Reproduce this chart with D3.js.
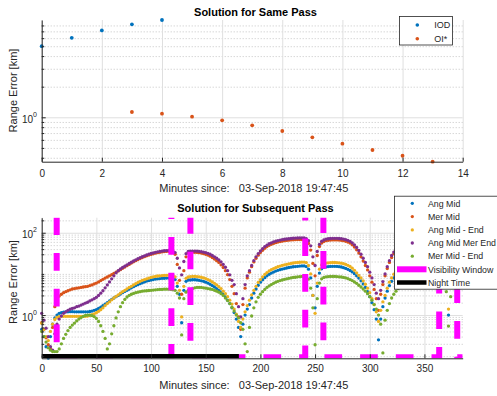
<!DOCTYPE html>
<html><head><meta charset="utf-8">
<script src="https://cdn.jsdelivr.net/npm/d3@7"></script>
<style>
body{margin:0;background:#fff;}
svg{display:block;font-family:"Liberation Sans",Arial,Helvetica,sans-serif;}
</style></head><body>
<svg id="chart" width="497" height="396"></svg>
<script>
// ---------------- DATA ----------------
// Top panel: Solution for Same Pass
const iodMinutes = [0, 1, 2, 3, 4];
const iodValues  = [5.0, 6.05, 7.15, 8.2, 9.05];
const oiMinutes  = [3, 4, 5, 6, 7, 8, 9, 10, 11, 12, 13];
const oiValues   = [1.127, 1.085, 1.014, 0.934, 0.834, 0.733, 0.636, 0.55, 0.477, 0.419, 0.366];
const topXTicks  = [0, 2, 4, 6, 8, 10, 12, 14];

// Bottom panel: Solution for Subsequent Pass (one sample every 2 minutes, 0..384)
const sampleStep = 2;
const angMid = [
0.45,0.3,0.17,0.09,0.3,0.6,0.85,1.0,1.1,1.15,
1.18,1.2,1.2,1.21,1.21,1.2,1.2,1.2,1.2,1.2,
1.2,1.2,1.22,1.25,1.3,1.35,1.45,1.55,1.7,1.85,
2.0,2.2,2.4,2.6,2.8,3.0,3.25,3.5,3.75,4.0,
4.3,4.6,4.9,5.2,5.5,5.8,6.1,6.4,6.7,6.9,
7.1,7.3,7.5,7.6,7.7,7.8,7.85,7.9,7.9,7.9,
7.8,7.3,5.0,3.2,0.65,4.0,6.6,7.1,7.1,7.2,
7.2,7.1,7.0,6.8,6.6,6.3,6.0,5.6,5.2,4.8,
4.4,4.0,3.6,3.2,2.75,2.3,1.9,1.5,1.15,0.8,
0.5,0.3,0.6,1.0,1.4,1.8,2.6,3.4,4.3,5.3,
6.3,7.2,8.1,9.0,9.8,10.5,11.1,11.7,12.2,12.7,
13.1,13.5,13.9,14.3,14.6,14.9,15.1,15.3,15.5,15.6,
15.6,15.1,13.0,8.0,3.0,1.5,5.0,10.5,13.3,14.4,
14.8,15.1,15.2,15.3,15.3,15.2,15.0,14.7,14.2,13.6,
12.9,12.1,11.2,10.1,9.0,7.9,6.8,5.7,4.7,3.7,
2.8,2.0,1.35,0.8,0.25,0.8,1.6,2.6,3.8,5.2,
6.6,8.0,9.3,10.5,11.5,12.3,13.0,13.6,14.1,14.5,
14.8,15.1,15.3,15.5,15.6,15.7,15.7,15.8,15.8,15.7,
15.6,15.5,15.2,14.3,11.5,6.0,1.0,7.0,12.0,14.2,
15.0,15.4,15.6];
const merMid = [
0.65,0.45,0.28,0.19,0.15,0.5,1.6,2.4,2.9,3.2,
3.5,3.7,3.9,4.1,4.3,4.4,4.5,4.6,4.7,4.8,
4.9,5.0,5.2,5.4,5.7,6.0,6.4,6.9,7.4,7.9,
8.4,9.0,9.6,10.3,11.0,11.8,12.7,13.7,14.7,15.8,
17.0,18.3,19.6,21.0,22.3,23.6,24.9,26.2,27.5,28.7,
29.8,30.8,31.8,32.7,33.5,34.2,34.8,35.2,35.5,35.5,
33.5,30,17,7,3.2,12,26,32,33,33.5,
33.5,33.2,32.7,32,31,30,28.6,27,25,23,
21,19,16.6,14.3,12,9.6,7.3,5.0,3.3,1.9,
0.9,0.45,1.8,4.5,8,11,15,19.5,24,28.5,
33,37.5,42,46,49.5,52.5,55,57.5,59.5,61,
62.5,64,65,66,67,67.5,68,68.5,68.5,68.5,
68,65,55,38,18,9,28,46,56,61,
64,65.5,66.5,67,67,67,66.5,65.5,64,62,
59.5,56,51,45,38.5,32,26,20.5,16,12.5,
9,6.3,4.2,2.5,1.3,3.2,5.5,9,13.5,19,
25,31,37,42,46,50,53,56,58.5,60.5,
62,63,64,65,65.5,66,66.5,67,67,67,
67,67,66.5,65,57,36,6,32,55,62,
64,65,65.5];
const angMidEnd = [
0.63,0.45,0.3,0.24,0.4,0.6,0.78,0.88,0.92,0.93,
0.93,0.93,0.93,0.93,0.93,0.93,0.93,0.93,0.93,0.93,
0.93,0.95,0.98,1.02,1.07,1.14,1.23,1.35,1.5,1.7,
1.9,2.1,2.35,2.6,2.85,3.1,3.4,3.7,4.0,4.35,
4.7,5.0,5.4,5.8,6.2,6.6,7.0,7.3,7.6,7.9,
8.2,8.5,8.7,8.9,9.0,9.1,9.2,9.25,9.3,9.3,
9.1,8.5,6.0,4.0,0.9,5.0,7.8,8.4,8.6,8.7,
8.7,8.6,8.5,8.3,8.0,7.7,7.3,6.9,6.4,5.9,
5.4,4.9,4.4,3.8,3.3,2.8,2.3,1.85,1.4,1.05,
0.7,0.5,0.8,1.2,1.7,2.3,3.1,4.0,5.0,6.2,
7.3,8.5,9.7,10.8,11.8,12.7,13.5,14.2,14.9,15.5,
16.1,16.6,17.1,17.6,18.0,18.4,18.7,19.0,19.2,19.4,
19.4,18.8,16.0,10.0,3.0,1.1,6.0,13.0,16.5,17.8,
18.3,18.6,18.8,18.9,18.9,18.8,18.6,18.2,17.7,17.0,
16.2,15.2,13.8,12.2,10.6,9.2,8.0,6.8,5.6,4.5,
3.5,2.5,1.8,1.2,0.7,1.3,2.1,3.0,4.5,6.3,
8.0,9.8,11.5,13.0,14.2,15.2,16.0,16.7,17.3,17.8,
18.2,18.5,18.7,18.9,19.0,19.1,19.2,19.2,19.2,19.2,
19.1,19.0,18.8,18.0,15.0,8.0,1.4,9.0,15.0,17.5,
18.5,19.0,19.2];
const angMidMerEnd = [
1.1,0.75,0.48,0.3,0.17,0.14,0.35,0.6,0.8,0.95,
1.1,1.2,1.3,1.4,1.45,1.5,1.6,1.65,1.75,1.85,
1.95,2.05,2.2,2.35,2.5,2.7,3.0,3.4,3.9,4.6,
5.4,6.4,7.6,9.0,10.6,12.0,13.2,14.3,15.4,16.6,
17.9,19.2,20.6,22.0,23.4,24.8,26.1,27.5,28.8,30.1,
31.3,32.4,33.4,34.4,35.2,35.9,36.5,36.9,37.1,37.0,
35.5,33,24,14,9.5,20,31,35,35.5,35.8,
35.8,35.6,35.2,34.6,33.8,32.8,31.5,30,28,26,
24,22,19.6,17,14.5,12,9.5,7.0,5.5,3.3,
1.6,0.9,2.5,5.5,9,12,16,21,26,31,
36,41,46,50,54,57,60,62.5,64.5,66.5,
68,69.5,70.5,71.5,72.5,73.5,74,74.5,75,75,
74.5,72,64,48,26,16,35,52,62,67,
70,71.5,72.5,73,73,73,72.5,71.5,70,68,
65.5,62,57,51,44,37,30,24,19,15,
11,8,5.5,3.4,2.5,4,6.5,10,15,21,
28,34,40,45,50,54,57.5,60.5,63,65,
66.5,68,69,70,71,71.5,72,72.5,73,73,
73,73,72.5,71,64,45,14,40,62,68,
70,71,71.5];
const merMidEnd = [
0.4,0.3,0.22,0.16,0.14,0.13,0.13,0.13,0.15,0.2,
0.27,0.34,0.42,0.5,0.57,0.64,0.72,0.8,0.87,0.93,
0.98,1.0,1.0,0.97,0.92,0.83,0.7,0.55,0.4,0.27,
0.15,0.2,0.35,0.55,0.85,1.2,1.6,2.0,2.4,2.75,
3.0,3.2,3.35,3.5,3.6,3.7,3.8,3.85,3.9,3.95,
4.0,4.05,4.1,4.15,4.2,4.2,4.25,4.25,4.25,4.2,
4.1,4.0,3.4,2.6,0.33,2.5,3.6,4.0,4.2,4.4,
4.6,4.7,4.7,4.7,4.6,4.5,4.4,4.3,4.2,4.0,
3.8,3.6,3.3,3.0,2.6,2.25,1.9,1.55,1.25,1.0,
0.85,0.65,0.45,0.2,0.13,0.5,0.95,1.5,2.1,2.7,
3.2,3.7,4.2,4.7,5.1,5.5,5.9,6.3,6.6,6.9,
7.1,7.4,7.6,7.8,8.0,8.2,8.3,8.5,8.6,8.7,
8.7,8.5,7.5,4.5,1.5,0.19,2.5,6.0,7.6,8.2,
8.5,8.6,8.7,8.7,8.7,8.6,8.5,8.4,8.2,8.0,
7.7,7.3,6.9,6.4,5.9,5.3,4.8,4.3,3.8,3.3,
2.8,2.3,1.8,1.4,1.0,0.6,0.12,0.75,1.3,1.9,
2.6,3.2,3.8,4.4,5.0,5.5,6.0,6.5,6.9,7.3,
7.6,7.9,8.1,8.3,8.5,8.6,8.7,8.8,8.8,8.8,
8.8,8.7,8.6,8.2,6.5,3.7,0.54,2.8,6.5,8.0,
8.5,8.7,8.8];
const seriesNames = ["Ang Mid", "Mer Mid", "Ang Mid - End", "Ang Mid Mer End", "Mer Mid - End"];
const seriesColors = ["#0072BD", "#D95319", "#EDB120", "#7E2F8E", "#77AC30"];
const seriesValues = [angMid, merMid, angMidEnd, angMidMerEnd, merMidEnd];
const visStart = [0, 118.6, 241, 363.5];
const visEnd   = [13.7, 136, 257.6, 380];
const visHigh = 375, visLow = 0.095;
const nightStart = 0, nightEnd = 180.3, nightLevel = 0.1;
const botXTicks = [0, 50, 100, 150, 200, 250, 300, 350];
const botXMax = 385;

// ---------------- DRAW ----------------
const svg = d3.select('#chart');
const INK = '#262626';
const minutes = angMid.map((_, i) => i * sampleStep);

const xTop = d3.scaleLinear().domain([0, 14]).range([41.7, 462.7]);
const yTop = d3.scaleLog().domain([0.366, 9.05]).range([161.7, 20]);
const xBot = d3.scaleLinear().domain([0, botXMax]).range([41.7, 462.7]);
const yBot = d3.scaleLog().domain([0.089, 232]).range([358.3, 217.7]);

function logMinors(y, majors) {
  const [a, b] = y.domain();
  const out = [];
  for (let e = -3; e <= 3; e++) for (let m = 1; m <= 9; m++) {
    const v = m * Math.pow(10, e);
    if (v > a * 1.03 && v < b * 0.97 && !majors.some(M => Math.abs(M - v) < 1e-9)) out.push(v);
  }
  return out;
}

function grid(x, y, xTicks, yMajor, yMinor) {
  const [x0, x1] = x.range(), [yb, yt] = y.range();
  const g = svg.append('g');
  g.append('g').attr('transform', `translate(${x0},0)`)
    .call(d3.axisLeft(y).tickValues(yMinor).tickSize(-(x1 - x0)).tickFormat('').tickSizeOuter(0))
    .call(s => s.select('.domain').remove())
    .selectAll('line').attr('stroke', '#b8b8b8').attr('stroke-width', 0.8).attr('stroke-dasharray', '1,2');
  g.append('g').attr('transform', `translate(0,${yb})`)
    .call(d3.axisBottom(x).tickValues(xTicks).tickSize(-(yb - yt)).tickFormat('').tickSizeOuter(0))
    .call(s => s.select('.domain').remove())
    .selectAll('line').attr('stroke', '#dfdfdf').attr('stroke-width', 1);
  g.append('g').attr('transform', `translate(${x0},0)`)
    .call(d3.axisLeft(y).tickValues(yMajor).tickSize(-(x1 - x0)).tickFormat('').tickSizeOuter(0))
    .call(s => s.select('.domain').remove())
    .selectAll('line').attr('stroke', '#dfdfdf').attr('stroke-width', 1);
}

function axes(x, y, xTicks, yMajor, yMinor, xPad) {
  const [x0, x1] = x.range(), [yb, yt] = y.range();
  const gx = svg.append('g').attr('transform', `translate(0,${yb})`)
    .call(d3.axisBottom(x).tickValues(xTicks).tickSize(-4).tickSizeOuter(0).tickPadding(xPad));
  gx.attr('font-size', null).attr('font-family', null);
  gx.select('.domain').attr('stroke', INK);
  gx.selectAll('line').attr('stroke', INK);
  gx.selectAll('text').attr('fill', INK).style('font-size', '10px');
  const gy = svg.append('g').attr('transform', `translate(${x0},0)`)
    .call(d3.axisLeft(y).tickValues(yMajor).tickSize(-4).tickSizeOuter(0).tickFormat(''));
  gy.select('.domain').attr('stroke', INK);
  gy.selectAll('line').attr('stroke', INK);
  const gm = svg.append('g').attr('transform', `translate(${x0},0)`)
    .call(d3.axisLeft(y).tickValues(yMinor).tickSize(-2.5).tickSizeOuter(0).tickFormat(''));
  gm.select('.domain').remove();
  gm.selectAll('line').attr('stroke', INK);
  // power-of-ten labels
  yMajor.forEach(v => {
    const t = svg.append('text').attr('x', 37).attr('y', y(v) + 5.6)
      .attr('text-anchor', 'end').attr('fill', INK).style('font-size', '10px');
    t.append('tspan').text('10');
    t.append('tspan').attr('dy', -6).style('font-size', '7px').text(String(Math.round(Math.log10(v))));
  });
}

function texts(title, titleY, xLabel, xLabelY, yLabelCY) {
  svg.append('text').attr('x', 255.5).attr('y', titleY).attr('text-anchor', 'middle')
    .style('font-size', '11px').style('font-weight', 'bold').attr('fill', '#000').text(title);
  svg.append('text').attr('x', 253.8).attr('y', xLabelY).attr('text-anchor', 'middle')
    .style('font-size', '11px').attr('fill', INK).attr('xml:space', 'preserve').style('white-space', 'pre').text(xLabel);
  svg.append('text').attr('transform', `translate(16.8,${yLabelCY}) rotate(-90)`).attr('text-anchor', 'middle')
    .style('font-size', '11px').attr('fill', INK).text('Range Error [km]');
}

// ---- Top panel
const topMajor = [1];
const topMinor = logMinors(yTop, topMajor);
grid(xTop, yTop, topXTicks, topMajor, topMinor);
const gTop = svg.append('g');
gTop.selectAll(null).data(iodMinutes.map((m, i) => [m, iodValues[i]])).join('circle')
  .attr('cx', d => xTop(d[0])).attr('cy', d => yTop(d[1])).attr('r', 1.9).attr('fill', '#0072BD');
gTop.selectAll(null).data(oiMinutes.map((m, i) => [m, oiValues[i]])).join('circle')
  .attr('cx', d => xTop(d[0])).attr('cy', d => yTop(d[1])).attr('r', 1.9).attr('fill', '#D95319');
axes(xTop, yTop, topXTicks, topMajor, topMinor, 8.2);
texts('Solution for Same Pass', 15.6, 'Minutes since:   03-Sep-2018 19:47:45', 192.3, 90.5);

// Top legend
const lg1 = svg.append('g');
lg1.append('rect').attr('x', 399.5).attr('y', 16.5).attr('width', 53).attr('height', 28.5)
  .attr('fill', '#fff').attr('stroke', INK).attr('stroke-width', 0.8);
[['IOD', '#0072BD', 25], ['OI*', '#D95319', 38.7]].forEach(([name, c, cy]) => {
  lg1.append('circle').attr('cx', 417.3).attr('cy', cy).attr('r', 1.8).attr('fill', c);
  lg1.append('text').attr('x', 434.3).attr('y', cy + 3.2).style('font-size', '9px').attr('fill', INK).text(name);
});

// ---- Bottom panel
const botMajor = [1, 100];
const botMinor = logMinors(yBot, botMajor);
grid(xBot, yBot, botXTicks, botMajor, botMinor);
const gBot = svg.append('g');
seriesValues.forEach((vals, si) => {
  gBot.append('g').selectAll('circle').data(vals.map((v, i) => [minutes[i], v])).join('circle')
    .attr('cx', d => xBot(d[0])).attr('cy', d => yBot(d[1])).attr('r', 1.65).attr('fill', seriesColors[si]);
});
svg.append('clipPath').attr('id', 'botclip').append('rect')
  .attr('x', 41.7).attr('y', 217.7).attr('width', 421).attr('height', 140.6);
// visibility window step line
const visPts = [];
visStart.forEach((s, i) => {
  if (s > 0) visPts.push([s, visLow]);
  visPts.push([s, visHigh], [visEnd[i], visHigh], [visEnd[i], visLow]);
});
visPts.push([botXMax, visLow]);
svg.append('path').attr('clip-path', 'url(#botclip)')
  .attr('d', d3.line().x(d => xBot(d[0])).y(d => yBot(d[1]))(visPts))
  .attr('fill', 'none').attr('stroke', '#FF00FF').attr('stroke-width', 6)
  .attr('stroke-dasharray', '17.7,18').attr('stroke-dashoffset', 12.5);
// night time
svg.append('path').attr('clip-path', 'url(#botclip)')
  .attr('d', d3.line().x(d => xBot(d[0])).y(d => yBot(d[1]))([[nightStart, nightLevel], [nightEnd, nightLevel]]))
  .attr('fill', 'none').attr('stroke', '#000').attr('stroke-width', 4.5);
axes(xBot, yBot, botXTicks, botMajor, botMinor, 6.6);
texts('Solution for Subsequent Pass', 212.3, 'Minutes since:   03-Sep-2018 19:47:45', 389, 282);

// Bottom legend
const lg2 = svg.append('g');
lg2.append('rect').attr('x', 394.5).attr('y', 196.2).attr('width', 110).attr('height', 93)
  .attr('fill', '#fff').attr('stroke', INK).attr('stroke-width', 0.8);
const rowY = [203.3, 216.6, 229.9, 243.0, 256.2, 269.3, 282.5];
seriesNames.forEach((n, i) => {
  lg2.append('circle').attr('cx', 412.3).attr('cy', rowY[i]).attr('r', 1.65).attr('fill', seriesColors[i]);
  lg2.append('text').attr('x', 428).attr('y', rowY[i] + 3.2).style('font-size', '8.8px').attr('fill', INK).text(n);
});
lg2.append('line').attr('x1', 397).attr('x2', 426.5).attr('y1', rowY[5]).attr('y2', rowY[5])
  .attr('stroke', '#FF00FF').attr('stroke-width', 6);
lg2.append('text').attr('x', 428).attr('y', rowY[5] + 3.2).style('font-size', '8.8px').attr('fill', INK).text('Visibility Window');
lg2.append('line').attr('x1', 397).attr('x2', 426.5).attr('y1', rowY[6]).attr('y2', rowY[6])
  .attr('stroke', '#000').attr('stroke-width', 4.5);
lg2.append('text').attr('x', 428).attr('y', rowY[6] + 3.2).style('font-size', '8.8px').attr('fill', INK).text('Night Time');
</script></body></html>
